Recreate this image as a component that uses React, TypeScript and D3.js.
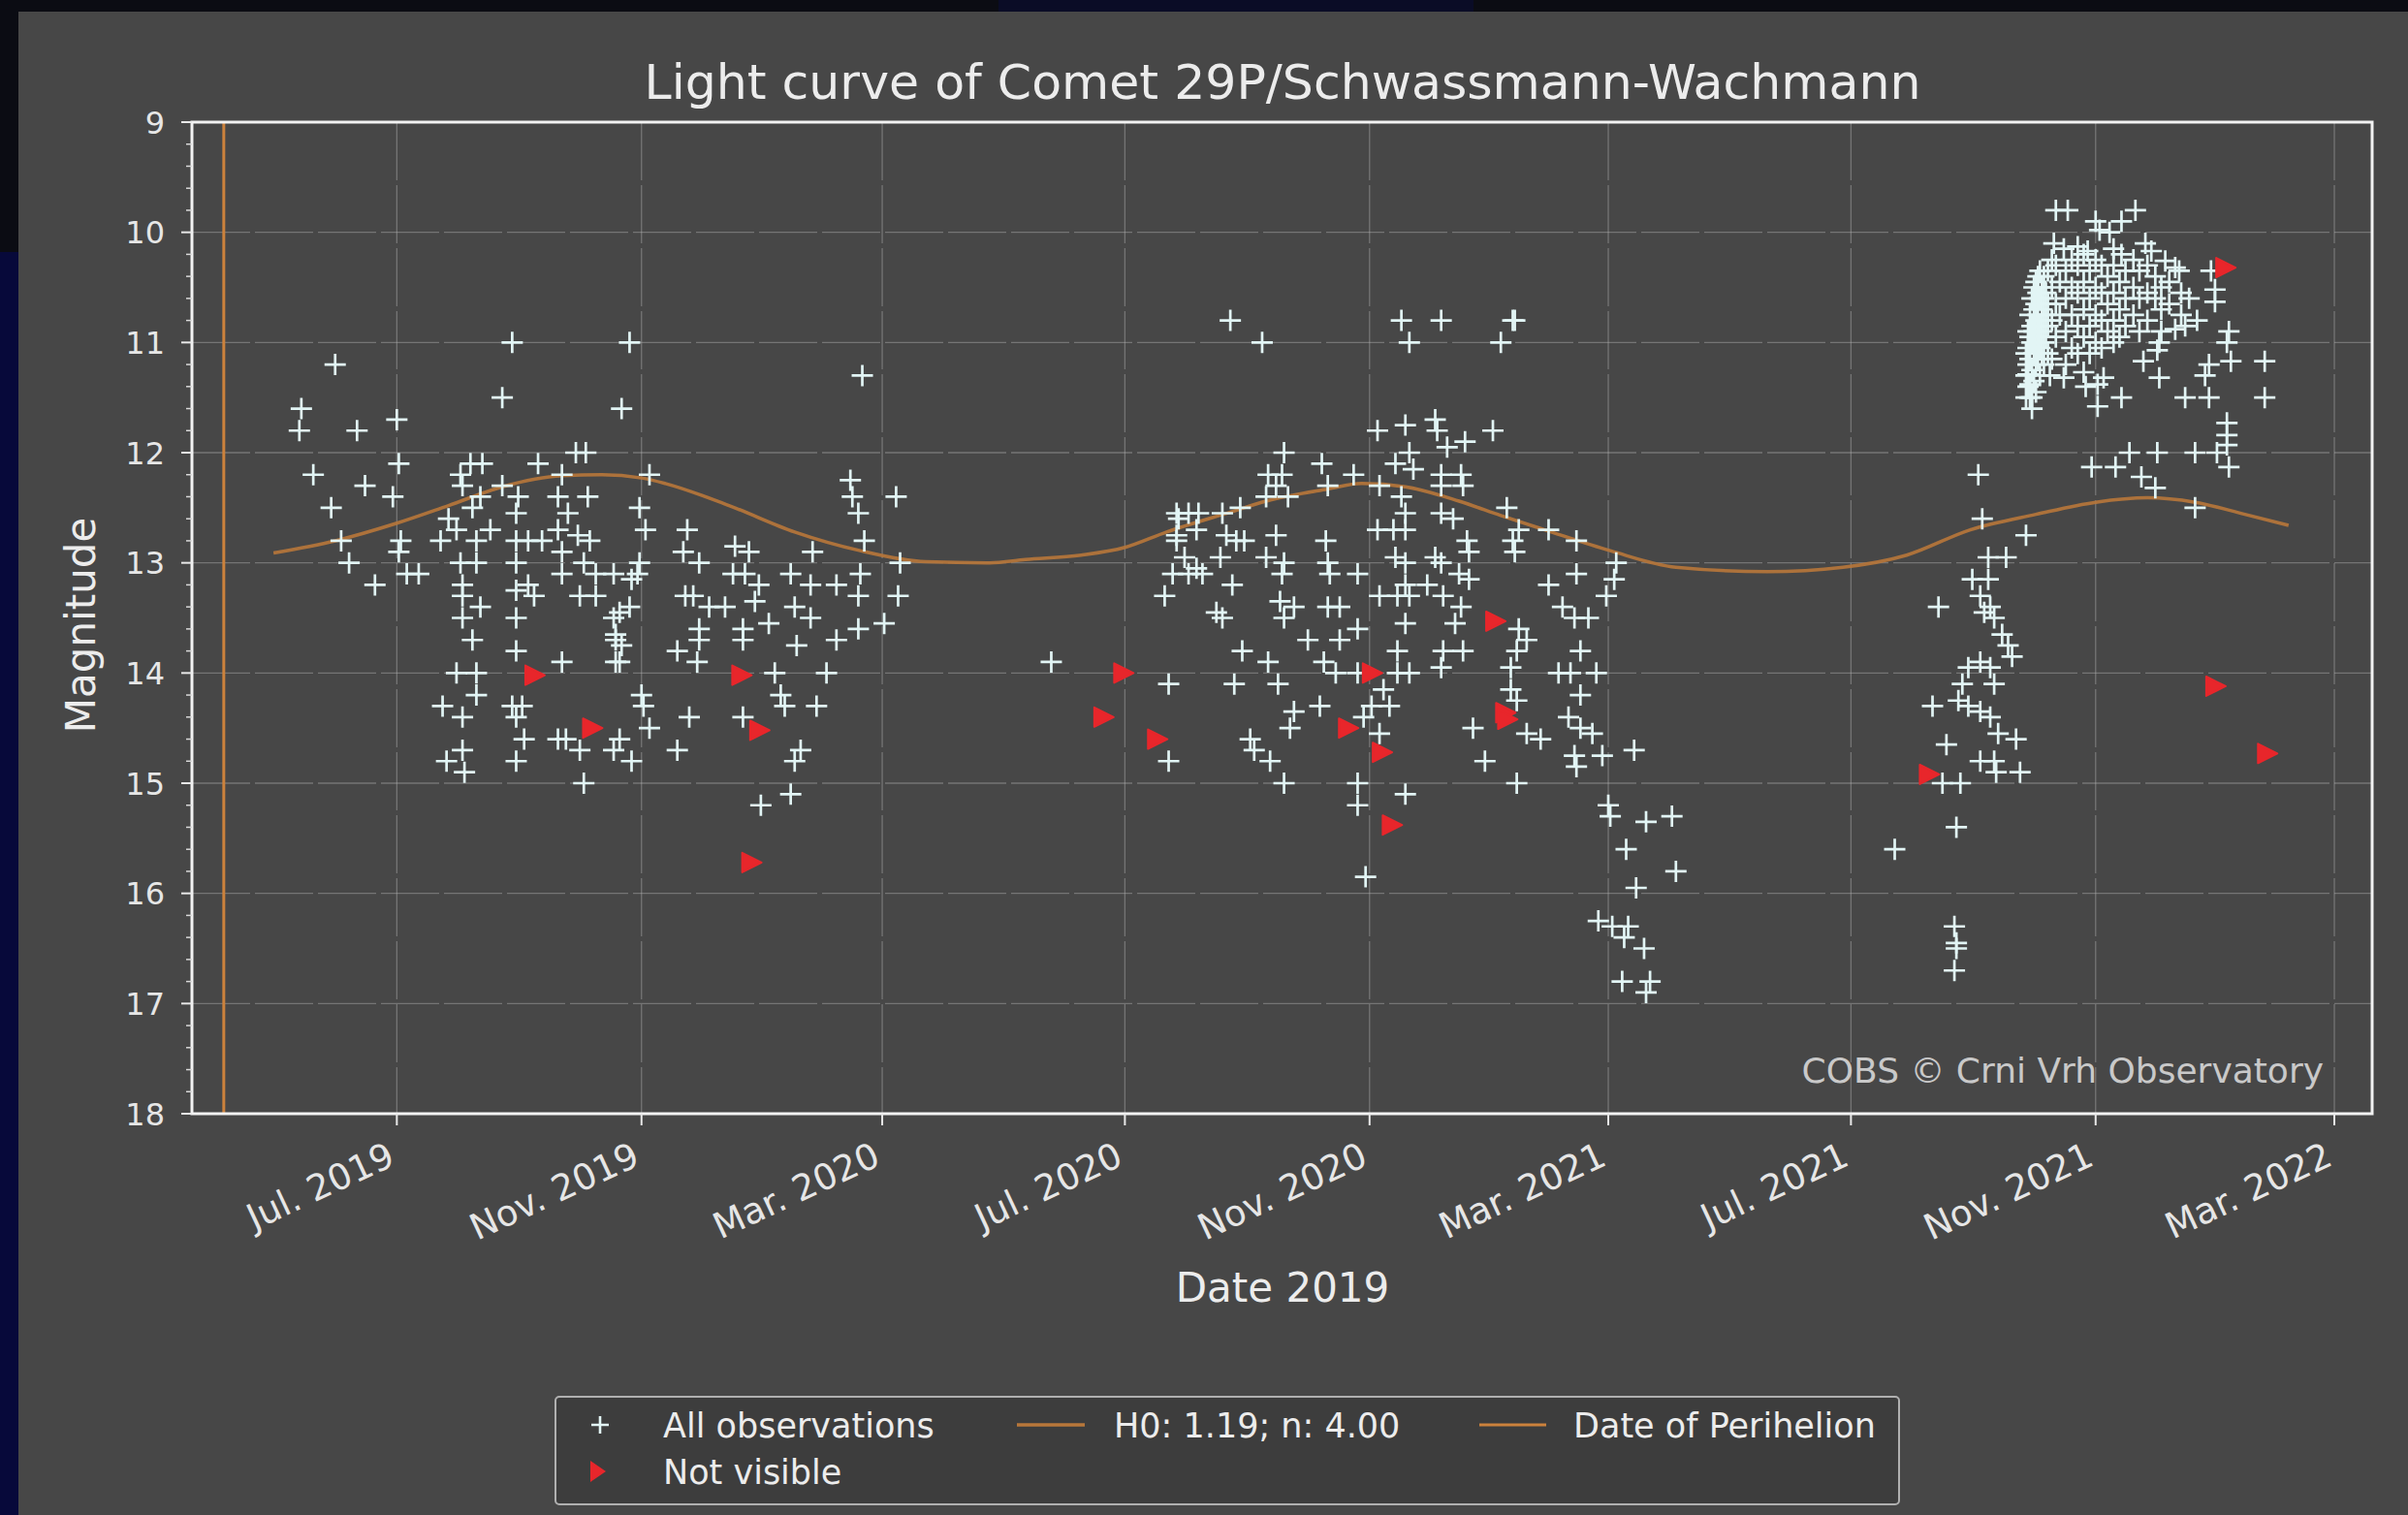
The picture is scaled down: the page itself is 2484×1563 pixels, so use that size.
import React, { useEffect, useRef } from 'react';
import * as d3 from 'd3';

// [date, magnitude]
const obsEarly2019: [string, number][] = [
  ['2019-05-31', 11.2], ['2019-05-14', 11.6], ['2019-05-13', 11.8], ['2019-06-11', 11.8], ['2019-07-01', 11.7],
  ['2019-05-20', 12.2], ['2019-06-15', 12.3], ['2019-07-02', 12.1], ['2019-06-29', 12.4], ['2019-05-29', 12.5],
  ['2019-06-03', 12.8], ['2019-06-07', 13.0], ['2019-06-20', 13.2], ['2019-07-03', 12.8], ['2019-07-02', 12.9],
  ['2019-07-06', 13.1], ['2019-07-12', 13.1],
];

const obsSeason2019: [string, number][] = [
  ['2019-08-28', 11.0], ['2019-08-23', 11.5], ['2019-10-22', 11.6], ['2019-10-26', 11.0],
  ['2019-08-07', 12.1], ['2019-08-13', 12.1], ['2019-08-02', 12.2], ['2019-08-03', 12.3], ['2019-08-12', 12.4],
  ['2019-08-23', 12.3], ['2019-09-10', 12.1], ['2019-09-22', 12.2], ['2019-09-29', 12.0], ['2019-10-04', 12.0],
  ['2019-10-05', 12.4], ['2019-08-31', 12.4], ['2019-09-20', 12.4], ['2019-07-27', 12.6], ['2019-08-08', 12.5],
  ['2019-08-30', 12.55], ['2019-09-25', 12.55], ['2019-07-23', 12.8], ['2019-07-31', 12.7], ['2019-08-10', 12.8],
  ['2019-08-17', 12.7], ['2019-08-30', 12.8], ['2019-09-05', 12.8], ['2019-09-12', 12.8], ['2019-09-20', 12.7],
  ['2019-09-30', 12.75], ['2019-10-06', 12.8], ['2019-08-02', 13.0], ['2019-08-10', 13.0], ['2019-08-30', 13.0],
  ['2019-09-22', 12.9], ['2019-09-22', 13.1], ['2019-10-03', 13.0], ['2019-10-09', 13.1], ['2019-08-03', 13.2],
  ['2019-08-30', 13.25], ['2019-09-05', 13.2], ['2019-09-08', 13.3], ['2019-10-01', 13.3], ['2019-10-09', 13.3],
  ['2019-08-03', 13.3], ['2019-08-12', 13.4], ['2019-08-03', 13.5], ['2019-08-30', 13.5], ['2019-08-08', 13.7],
  ['2019-08-30', 13.8], ['2019-09-22', 13.9], ['2019-10-18', 13.5], ['2019-10-19', 13.7], ['2019-10-19', 13.9],
  ['2019-07-31', 14.0], ['2019-08-10', 14.0], ['2019-08-10', 14.2], ['2019-07-24', 14.3], ['2019-08-03', 14.4],
  ['2019-08-28', 14.3], ['2019-09-02', 14.3], ['2019-08-30', 14.4], ['2019-09-03', 14.6], ['2019-08-30', 14.8],
  ['2019-09-20', 14.6], ['2019-09-24', 14.6], ['2019-10-01', 14.7], ['2019-07-26', 14.8], ['2019-08-03', 14.7],
  ['2019-08-04', 14.9], ['2019-10-03', 15.0], ['2019-10-18', 14.7],
  ['2019-11-05', 12.2], ['2019-10-31', 12.5], ['2019-11-03', 12.7], ['2019-10-31', 13.0], ['2019-10-27', 13.15],
  ['2019-11-24', 12.7], ['2019-11-22', 12.9], ['2019-11-30', 13.0], ['2019-12-18', 12.85], ['2019-12-25', 12.9],
  ['2020-02-14', 12.25], ['2020-02-18', 12.55], ['2020-02-15', 12.4], ['2020-03-08', 12.4], ['2020-02-21', 12.8],
  ['2020-01-26', 12.9], ['2020-03-10', 13.0], ['2020-02-19', 13.1], ['2020-03-09', 13.3], ['2019-10-18', 13.1],
  ['2019-10-30', 13.1], ['2019-12-17', 13.1], ['2019-12-23', 13.1], ['2019-12-30', 13.2], ['2020-01-15', 13.1],
  ['2020-01-25', 13.2], ['2020-02-07', 13.2], ['2020-02-18', 13.3], ['2019-11-23', 13.3], ['2019-11-27', 13.3],
  ['2019-12-05', 13.4], ['2019-12-13', 13.4], ['2019-12-28', 13.35], ['2020-01-17', 13.4], ['2019-10-21', 13.45],
  ['2019-10-26', 13.4], ['2019-11-30', 13.6], ['2019-12-22', 13.6], ['2020-01-04', 13.55], ['2020-01-25', 13.5],
  ['2020-02-18', 13.6], ['2020-03-02', 13.55], ['2019-10-19', 13.65], ['2019-10-22', 13.75], ['2019-11-19', 13.8],
  ['2019-11-30', 13.7], ['2019-12-22', 13.7], ['2020-01-18', 13.75], ['2020-02-07', 13.7], ['2019-10-21', 13.9],
  ['2019-11-29', 13.9], ['2020-01-07', 14.0], ['2020-02-02', 14.0], ['2019-11-01', 14.2], ['2019-11-02', 14.3],
  ['2019-11-25', 14.4], ['2020-01-10', 14.2], ['2020-01-12', 14.3], ['2020-01-28', 14.3], ['2019-12-22', 14.4],
  ['2019-11-05', 14.5], ['2019-10-21', 14.6], ['2019-10-27', 14.8], ['2019-11-19', 14.7], ['2020-01-20', 14.7],
  ['2020-01-17', 14.8], ['2020-01-15', 15.1], ['2019-12-31', 15.2], ['2020-02-20', 11.3],
];

const obsSeason2020: [string, number][] = [
  ['2020-05-25', 13.9], ['2020-08-23', 10.8], ['2020-09-08', 11.0], ['2020-11-17', 10.8], ['2020-11-21', 11.0],
  ['2020-12-07', 10.8], ['2021-01-12', 10.8], ['2021-01-13', 10.8], ['2021-01-06', 11.0],
  ['2020-11-05', 11.8], ['2020-11-19', 11.75], ['2020-12-04', 11.7], ['2020-12-05', 11.8], ['2021-01-02', 11.8],
  ['2020-12-19', 11.9], ['2020-12-10', 11.95], ['2020-09-19', 12.0], ['2020-10-08', 12.1], ['2020-10-24', 12.2],
  ['2020-11-21', 12.0], ['2020-11-14', 12.1], ['2020-11-23', 12.15], ['2020-12-07', 12.2], ['2020-12-17', 12.2],
  ['2020-09-11', 12.2], ['2020-09-18', 12.2], ['2020-09-15', 12.3], ['2020-09-10', 12.4], ['2020-09-21', 12.4],
  ['2020-10-11', 12.3], ['2020-11-06', 12.3], ['2020-11-17', 12.4], ['2020-12-07', 12.3], ['2020-12-18', 12.3],
  ['2021-01-09', 12.5], ['2020-08-28', 12.5], ['2020-08-19', 12.55], ['2020-07-27', 12.55], ['2020-08-02', 12.55],
  ['2020-08-07', 12.55], ['2020-07-28', 12.6], ['2020-08-06', 12.7], ['2020-11-19', 12.55], ['2020-12-07', 12.55],
  ['2020-12-13', 12.6], ['2021-01-15', 12.7], ['2021-01-30', 12.7], ['2021-02-13', 12.8], ['2021-01-12', 12.8],
  ['2020-07-27', 12.75], ['2020-07-27', 12.8], ['2020-08-21', 12.75], ['2020-08-26', 12.8], ['2020-08-30', 12.8],
  ['2020-09-15', 12.75], ['2020-10-10', 12.8], ['2020-11-05', 12.7], ['2020-11-13', 12.7], ['2020-11-19', 12.7],
  ['2020-12-20', 12.8], ['2020-12-21', 12.9], ['2021-01-13', 12.9], ['2020-07-31', 12.95], ['2020-08-06', 13.05],
  ['2020-08-18', 12.95], ['2020-09-10', 12.95], ['2020-09-19', 13.0], ['2020-10-11', 13.0], ['2020-11-14', 12.95],
  ['2020-11-19', 13.0], ['2020-12-04', 12.95], ['2020-12-07', 13.0], ['2021-03-05', 13.0], ['2021-03-04', 13.15],
  ['2020-07-25', 13.1], ['2020-08-02', 13.1], ['2020-08-09', 13.1], ['2020-08-24', 13.2], ['2020-09-18', 13.1],
  ['2020-10-12', 13.1], ['2020-10-26', 13.1], ['2020-12-16', 13.1], ['2020-12-21', 13.15], ['2021-01-30', 13.2],
  ['2021-02-13', 13.1], ['2021-02-28', 13.3], ['2020-07-21', 13.3], ['2020-09-17', 13.35], ['2020-11-06', 13.3],
  ['2020-11-15', 13.3], ['2020-11-21', 13.3], ['2020-11-30', 13.2], ['2020-11-19', 13.2], ['2020-12-08', 13.3],
  ['2020-09-19', 13.5], ['2020-09-24', 13.4], ['2020-10-11', 13.4], ['2020-10-17', 13.4], ['2020-12-17', 13.4],
  ['2021-02-06', 13.4], ['2021-02-12', 13.5], ['2021-02-19', 13.5], ['2020-08-19', 13.5], ['2020-08-16', 13.45],
  ['2020-11-19', 13.55], ['2020-12-14', 13.55], ['2021-01-15', 13.6], ['2021-01-19', 13.7], ['2020-08-29', 13.8],
  ['2020-09-11', 13.9], ['2020-10-01', 13.7], ['2020-10-17', 13.7], ['2020-10-26', 13.6], ['2020-11-15', 13.8],
  ['2020-12-08', 13.8], ['2020-12-18', 13.8], ['2021-01-14', 13.8], ['2021-02-15', 13.8], ['2021-01-11', 13.95],
  ['2020-10-09', 13.9], ['2020-10-15', 14.0], ['2020-12-07', 13.95], ['2021-02-04', 14.0], ['2021-02-10', 14.0],
  ['2021-02-23', 14.0], ['2020-07-23', 14.1], ['2020-07-23', 14.8], ['2020-08-25', 14.1], ['2020-09-16', 14.1],
  ['2020-09-19', 15.0], ['2020-09-02', 14.6], ['2020-09-04', 14.7], ['2020-09-12', 14.8], ['2020-09-24', 14.35],
  ['2020-09-22', 14.5], ['2020-10-07', 14.3], ['2020-10-26', 14.0], ['2020-11-15', 14.0], ['2020-11-21', 14.0],
  ['2020-11-08', 14.15], ['2020-11-11', 14.3], ['2020-11-02', 14.3], ['2020-10-29', 14.4], ['2020-11-06', 14.55],
  ['2020-10-26', 15.0], ['2020-10-26', 15.2], ['2020-11-19', 15.1], ['2020-10-30', 15.85], ['2020-12-23', 14.5],
  ['2020-12-29', 14.8], ['2021-01-11', 14.15], ['2021-01-14', 14.25], ['2021-01-19', 14.55], ['2021-01-26', 14.6],
  ['2021-01-14', 15.0], ['2021-02-09', 14.4], ['2021-02-15', 14.5], ['2021-02-21', 14.55], ['2021-02-12', 14.75],
  ['2021-02-13', 14.85], ['2021-02-26', 14.75], ['2021-03-14', 14.7], ['2021-02-15', 14.2], ['2021-03-01', 15.2],
  ['2021-03-02', 15.3], ['2021-03-20', 15.35], ['2021-04-02', 15.3], ['2021-03-10', 15.6], ['2021-04-04', 15.8],
  ['2021-03-15', 15.95], ['2021-02-24', 16.25], ['2021-03-03', 16.3], ['2021-03-11', 16.3], ['2021-03-09', 16.4],
  ['2021-03-19', 16.5], ['2021-03-08', 16.8], ['2021-03-22', 16.8], ['2021-03-20', 16.9],
];

const obsSeason2021: [string, number][] = [
  ['2021-07-23', 15.6], ['2021-08-23', 15.4], ['2021-08-16', 15.0], ['2021-08-25', 15.0], ['2021-08-11', 14.3],
  ['2021-08-18', 14.65], ['2021-08-14', 13.4], ['2021-09-03', 12.2], ['2021-09-05', 12.6], ['2021-09-27', 12.75],
  ['2021-09-08', 12.95], ['2021-09-17', 12.95], ['2021-08-31', 13.15], ['2021-09-08', 13.15], ['2021-09-04', 13.3],
  ['2021-09-09', 13.4], ['2021-09-06', 13.45], ['2021-09-11', 13.5], ['2021-09-15', 13.65], ['2021-09-18', 13.75],
  ['2021-09-20', 13.85], ['2021-08-29', 13.95], ['2021-09-04', 13.9], ['2021-09-09', 13.95], ['2021-08-26', 14.1],
  ['2021-09-11', 14.1], ['2021-08-24', 14.25], ['2021-08-29', 14.3], ['2021-09-04', 14.35], ['2021-09-09', 14.4],
  ['2021-09-13', 14.55], ['2021-09-22', 14.6], ['2021-09-04', 14.8], ['2021-09-11', 14.8], ['2021-09-12', 14.9],
  ['2021-09-24', 14.9], ['2021-08-22', 16.3], ['2021-08-23', 16.5], ['2021-08-22', 16.7], ['2021-08-23', 16.45],
  ['2021-10-30', 12.13], ['2021-11-11', 12.13], ['2021-11-18', 12.0], ['2021-12-02', 12.0], ['2021-11-24', 12.22],
  ['2021-12-01', 12.32], ['2021-12-21', 12.0], ['2021-12-21', 12.5], ['2022-01-01', 12.0], ['2022-01-07', 12.13],
  ['2022-01-06', 11.73], ['2022-01-06', 11.84], ['2022-01-06', 11.93],
];

const obsOutburst2021: [string, number][] = [
  ['2021-10-12', 9.8], ['2021-10-18', 9.8], ['2021-11-21', 9.8], ['2021-11-14', 9.9], ['2021-11-01', 9.9],
  ['2021-11-08', 10.0], ['2021-11-03', 9.98], ['2021-10-11', 10.1], ['2021-10-16', 10.15], ['2021-10-23', 10.13],
  ['2021-10-28', 10.17], ['2021-11-10', 10.15], ['2021-11-14', 10.2], ['2021-11-26', 10.1], ['2021-11-29', 10.17],
  ['2021-12-06', 10.26], ['2021-12-11', 10.32], ['2021-12-13', 10.35], ['2021-12-29', 10.35], ['2021-12-31', 10.52],
  ['2021-12-31', 10.63], ['2022-01-07', 10.9], ['2022-01-06', 11.0], ['2022-01-08', 11.17], ['2022-01-25', 11.17],
  ['2022-01-25', 11.5], ['2021-12-28', 11.2], ['2021-12-26', 11.3], ['2021-12-16', 11.5], ['2021-12-28', 11.5],
  ['2021-12-22', 10.8], ['2021-12-16', 10.85], ['2021-12-11', 10.88], ['2021-12-04', 10.9], ['2021-12-03', 11.0],
  ['2021-12-02', 11.07], ['2021-11-25', 11.17], ['2021-12-03', 11.32], ['2021-11-14', 11.5], ['2021-11-02', 11.58],
  ['2021-10-27', 11.4], ['2021-11-02', 11.38], ['2021-10-26', 11.27], ['2021-11-05', 11.32], ['2021-10-16', 11.32],
  ['2021-10-09', 11.3], ['2021-09-30', 11.5], ['2021-09-29', 11.38], ['2021-09-28', 11.29],
  ['2021-09-27', 11.1], ['2021-09-27', 11.3], ['2021-09-27', 11.5], ['2021-09-28', 10.9], ['2021-09-28', 11.05],
  ['2021-09-28', 11.2], ['2021-09-28', 11.4], ['2021-09-29', 10.75], ['2021-09-29', 10.95], ['2021-09-29', 11.15],
  ['2021-09-29', 11.5], ['2021-09-30', 10.6], ['2021-09-30', 10.85], ['2021-09-30', 11.0], ['2021-09-30', 11.25],
  ['2021-09-30', 11.6], ['2021-10-01', 10.5], ['2021-10-01', 10.7], ['2021-10-01', 10.9], ['2021-10-01', 11.1],
  ['2021-10-01', 11.35], ['2021-10-02', 10.45], ['2021-10-02', 10.65], ['2021-10-02', 10.8], ['2021-10-02', 11.0],
  ['2021-10-02', 11.2], ['2021-10-02', 11.45], ['2021-10-03', 10.4], ['2021-10-03', 10.55], ['2021-10-03', 10.75],
  ['2021-10-03', 10.95], ['2021-10-03', 11.15], ['2021-10-04', 10.35], ['2021-10-04', 10.6], ['2021-10-04', 10.85],
  ['2021-10-04', 11.05], ['2021-10-04', 11.3], ['2021-10-05', 10.5], ['2021-10-05', 10.7], ['2021-10-05', 10.9],
  ['2021-10-05', 11.1], ['2021-10-06', 10.4], ['2021-10-06', 10.6], ['2021-10-06', 10.8], ['2021-10-06', 11.0],
  ['2021-10-06', 11.2], ['2021-10-07', 10.55], ['2021-10-07', 10.75], ['2021-10-07', 10.95], ['2021-10-08', 10.35],
  ['2021-10-08', 10.65], ['2021-10-08', 10.85], ['2021-10-08', 11.1], ['2021-10-10', 10.25], ['2021-10-10', 10.5],
  ['2021-10-10', 10.8], ['2021-10-10', 11.15], ['2021-10-12', 10.3], ['2021-10-12', 10.65], ['2021-10-12', 10.95],
  ['2021-10-14', 10.45], ['2021-10-14', 10.75], ['2021-10-17', 10.35], ['2021-10-17', 10.6], ['2021-10-17', 10.9],
  ['2021-10-17', 11.2], ['2021-10-20', 10.25], ['2021-10-20', 10.5], ['2021-10-20', 10.75], ['2021-10-20', 11.05],
  ['2021-10-23', 10.3], ['2021-10-23', 10.55], ['2021-10-23', 10.85], ['2021-10-23', 11.1], ['2021-10-26', 10.2],
  ['2021-10-26', 10.45], ['2021-10-26', 10.7], ['2021-10-26', 10.95], ['2021-10-29', 10.35], ['2021-10-29', 10.6],
  ['2021-10-29', 10.85], ['2021-10-29', 11.1], ['2021-11-01', 10.25], ['2021-11-01', 10.5], ['2021-11-01', 10.75],
  ['2021-11-01', 11.0], ['2021-11-04', 10.3], ['2021-11-04', 10.55], ['2021-11-04', 10.8], ['2021-11-04', 11.05],
  ['2021-11-07', 10.4], ['2021-11-07', 10.65], ['2021-11-07', 10.9], ['2021-11-10', 10.3], ['2021-11-10', 10.55],
  ['2021-11-10', 10.8], ['2021-11-10', 11.0], ['2021-11-13', 10.45], ['2021-11-13', 10.7], ['2021-11-13', 10.95],
  ['2021-11-16', 10.35], ['2021-11-16', 10.6], ['2021-11-16', 10.85], ['2021-11-20', 10.25], ['2021-11-20', 10.5],
  ['2021-11-20', 10.75], ['2021-11-23', 10.35], ['2021-11-23', 10.6], ['2021-11-23', 10.9], ['2021-11-27', 10.3],
  ['2021-11-27', 10.55], ['2021-11-27', 10.8], ['2021-12-01', 10.4], ['2021-12-01', 10.6], ['2021-12-04', 10.5],
  ['2021-12-04', 10.7], ['2021-12-08', 10.45], ['2021-12-08', 10.65], ['2021-12-14', 10.55], ['2021-12-14', 10.75],
  ['2021-12-18', 10.6],
];

// "Not visible" reports
const notVisible: [string, number][] = [
  ['2019-09-08', 14.02], ['2019-10-07', 14.5], ['2019-12-21', 14.02], ['2019-12-30', 14.52], ['2019-12-26', 15.72],
  ['2020-06-30', 14.0], ['2020-06-20', 14.4], ['2020-07-17', 14.6], ['2020-11-02', 14.0], ['2020-10-21', 14.5],
  ['2020-11-07', 14.72], ['2020-11-12', 15.38], ['2021-01-03', 13.53], ['2021-01-08', 14.36], ['2021-01-09', 14.42],
  ['2021-08-09', 14.92], ['2022-01-05', 10.32], ['2021-12-31', 14.12], ['2022-01-26', 14.73],
];

// H0: 1.19; n: 4.00 model curve, read at points along the drawn line
const h0Curve: [string, number][] = [
  ['2019-04-30', 12.91], ['2019-05-31', 12.8], ['2019-07-01', 12.64], ['2019-07-27', 12.48], ['2019-08-23', 12.31],
  ['2019-09-22', 12.21], ['2019-10-12', 12.2], ['2019-11-01', 12.23], ['2019-11-13', 12.28], ['2019-12-15', 12.48],
  ['2020-01-17', 12.72], ['2020-02-19', 12.89], ['2020-03-23', 12.99], ['2020-04-24', 13.0], ['2020-05-12', 12.97],
  ['2020-06-09', 12.93], ['2020-07-01', 12.86], ['2020-07-22', 12.72], ['2020-08-23', 12.54], ['2020-09-10', 12.44],
  ['2020-10-11', 12.33], ['2020-10-28', 12.28], ['2020-11-19', 12.31], ['2020-12-16', 12.44], ['2021-01-06', 12.57],
  ['2021-01-28', 12.7], ['2021-03-02', 12.89], ['2021-04-04', 13.04], ['2021-05-20', 13.08], ['2021-06-27', 13.04],
  ['2021-07-29', 12.93], ['2021-08-30', 12.7], ['2021-10-02', 12.56], ['2021-11-01', 12.45], ['2021-11-27', 12.41],
  ['2021-12-21', 12.45], ['2022-01-15', 12.56], ['2022-02-06', 12.66],
];

const perihelionDate = '2019-04-05';
const xDomain = ['2019-03-20', '2022-03-20'];
const xTickDates = ['2019-07-01', '2019-11-01', '2020-03-01', '2020-07-01', '2020-11-01', '2021-03-01', '2021-07-01', '2021-11-01', '2022-03-01'];
const yTicks = [9, 10, 11, 12, 13, 14, 15, 16, 17, 18];

const W = 2484;
const H = 1563;
const FONT = 'DejaVu Sans, Verdana, sans-serif';

const App = () => {
  const ref = useRef<SVGSVGElement>(null);

  useEffect(() => {
    document.body.style.margin = '0';
    const svg = d3.select(ref.current);
    svg.selectAll('*').remove();

    const margin = { top: 126, right: 37, bottom: 414, left: 198 };
    const parse = d3.utcParse('%Y-%m-%d');
    const fmt = d3.utcFormat('%b. %Y');

    const x = d3.scaleUtc()
      .domain(xDomain.map(d => parse(d) as Date))
      .range([margin.left, W - margin.right]);
    const y = d3.scaleLinear()
      .domain([9, 18])
      .range([margin.top, H - margin.bottom]);
    const [x0, x1] = x.range();
    const [y0, y1] = y.range();

    // page background + figure panel
    svg.append('rect').attr('width', W).attr('height', H).attr('fill', '#0b0c13');
    svg.append('rect').attr('x', 0).attr('y', 260).attr('width', 19).attr('height', H - 260).attr('fill', '#07093a');
    svg.append('rect').attr('x', 1030).attr('y', 0).attr('width', 490).attr('height', 12).attr('fill', '#0a0c26');
    svg.append('rect').attr('x', 19).attr('y', 12).attr('width', W - 19).attr('height', H - 12).attr('fill', '#474747');

    // grid
    const grid = svg.append('g').attr('stroke', '#b4b4b4').attr('stroke-opacity', 0.42)
      .attr('stroke-width', 1.3).attr('stroke-dasharray', '60,5');
    grid.selectAll('line.gx').data(xTickDates).enter().append('line')
      .attr('x1', d => x(parse(d) as Date)).attr('x2', d => x(parse(d) as Date))
      .attr('y1', y0).attr('y2', y1);
    grid.selectAll('line.gy').data(yTicks.slice(1, -1)).enter().append('line')
      .attr('x1', x0).attr('x2', x1).attr('y1', d => y(d)).attr('y2', d => y(d));

    // H0 curve
    const line = d3.line<[string, number]>()
      .x(d => x(parse(d[0]) as Date))
      .y(d => y(d[1]))
      .curve(d3.curveMonotoneX);
    svg.append('path').datum(h0Curve).attr('d', line)
      .attr('fill', 'none').attr('stroke', '#b8773a').attr('stroke-width', 3.5).attr('stroke-opacity', 0.9);

    // perihelion
    const px = x(parse(perihelionDate) as Date);
    svg.append('line').attr('x1', px).attr('x2', px).attr('y1', y0).attr('y2', y1)
      .attr('stroke', '#cc823c').attr('stroke-width', 3);

    // observations
    const allObs = [...obsEarly2019, ...obsSeason2019, ...obsSeason2020, ...obsSeason2021, ...obsOutburst2021];
    svg.append('g').selectAll('path').data(allObs).enter().append('path')
      .attr('d', 'M-11,0H11M0,-11V11')
      .attr('transform', d => `translate(${x(parse(d[0]) as Date)},${y(d[1])})`)
      .attr('stroke', '#e2f5f5').attr('stroke-width', 2.7).attr('fill', 'none');

    svg.append('g').selectAll('path').data(notVisible).enter().append('path')
      .attr('d', 'M-9,-10L11,0L-9,10Z')
      .attr('transform', d => `translate(${x(parse(d[0]) as Date)},${y(d[1])})`)
      .attr('fill', '#e8262b').attr('stroke', '#e8262b').attr('stroke-width', 2).attr('stroke-linejoin', 'round');

    // spines
    svg.append('rect').attr('x', x0).attr('y', y0).attr('width', x1 - x0).attr('height', y1 - y0)
      .attr('fill', 'none').attr('stroke', '#f2f2f2').attr('stroke-width', 3);

    // y ticks
    const minor = d3.range(9, 18.001, 0.2).filter(v => Math.abs(v - Math.round(v)) > 0.01);
    svg.append('g').selectAll('line').data(minor).enter().append('line')
      .attr('x1', x0 - 6).attr('x2', x0).attr('y1', d => y(d)).attr('y2', d => y(d))
      .attr('stroke', '#d8d8d8').attr('stroke-width', 1.5);
    svg.append('g').selectAll('line').data(yTicks).enter().append('line')
      .attr('x1', x0 - 11).attr('x2', x0).attr('y1', d => y(d)).attr('y2', d => y(d))
      .attr('stroke', '#e8e8e8').attr('stroke-width', 2);
    svg.append('g').selectAll('text').data(yTicks).enter().append('text')
      .attr('x', x0 - 28).attr('y', d => y(d)).attr('dy', '0.36em')
      .attr('text-anchor', 'end').attr('font-family', FONT).attr('font-size', 32)
      .attr('fill', '#e6e6e6').text(d => d);

    // x ticks
    svg.append('g').selectAll('line').data(xTickDates).enter().append('line')
      .attr('x1', d => x(parse(d) as Date)).attr('x2', d => x(parse(d) as Date))
      .attr('y1', y1).attr('y2', y1 + 12)
      .attr('stroke', '#e8e8e8').attr('stroke-width', 2);
    svg.append('g').selectAll('text').data(xTickDates).enter().append('text')
      .attr('transform', d => `translate(${x(parse(d) as Date)},${y1 + 52}) rotate(-25)`)
      .attr('text-anchor', 'end').attr('font-family', FONT).attr('font-size', 37)
      .attr('fill', '#e6e6e6').text(d => fmt(parse(d) as Date));

    // titles
    svg.append('text').attr('x', 1323).attr('y', 102).attr('text-anchor', 'middle')
      .attr('font-family', FONT).attr('font-size', 50.5).attr('fill', '#ececec')
      .text('Light curve of Comet 29P/Schwassmann-Wachmann');
    svg.append('text').attr('x', 1323).attr('y', 1343).attr('text-anchor', 'middle')
      .attr('font-family', FONT).attr('font-size', 42).attr('fill', '#ececec').text('Date 2019');
    svg.append('text').attr('transform', 'translate(98,645) rotate(-90)').attr('text-anchor', 'middle')
      .attr('font-family', FONT).attr('font-size', 42).attr('fill', '#ececec').text('Magnitude');

    svg.append('text').attr('x', 2397).attr('y', 1117).attr('text-anchor', 'end')
      .attr('font-family', FONT).attr('font-size', 36).attr('fill', '#c9c9c9')
      .text('COBS \u00a9 Crni Vrh Observatory');

    // legend
    const lg = svg.append('g').attr('font-family', FONT).attr('font-size', 35).attr('fill', '#ececec');
    lg.append('rect').attr('x', 573).attr('y', 1441).attr('width', 1386).attr('height', 111).attr('rx', 4)
      .attr('fill', '#3d3d3d').attr('stroke', '#b0b0b0').attr('stroke-width', 2);
    lg.append('path').attr('d', 'M-9,0H9M0,-9V9').attr('transform', 'translate(619,1470)')
      .attr('stroke', '#e2f5f5').attr('stroke-width', 2.6);
    lg.append('path').attr('d', 'M-7,-11L9,0L-7,11Z').attr('transform', 'translate(616,1518)').attr('fill', '#e8262b');
    lg.append('text').attr('x', 684).attr('y', 1483).text('All observations');
    lg.append('text').attr('x', 684).attr('y', 1531).text('Not visible');
    lg.append('line').attr('x1', 1049).attr('x2', 1119).attr('y1', 1470).attr('y2', 1470)
      .attr('stroke', '#b8773a').attr('stroke-width', 3.5);
    lg.append('text').attr('x', 1149).attr('y', 1483).text('H0: 1.19; n: 4.00');
    lg.append('line').attr('x1', 1526).attr('x2', 1595).attr('y1', 1470).attr('y2', 1470)
      .attr('stroke', '#cc823c').attr('stroke-width', 3);
    lg.append('text').attr('x', 1623).attr('y', 1483).text('Date of Perihelion');
  }, []);

  return <svg ref={ref} width={W} height={H} style={{ display: 'block' }} />;
};

export default App;
